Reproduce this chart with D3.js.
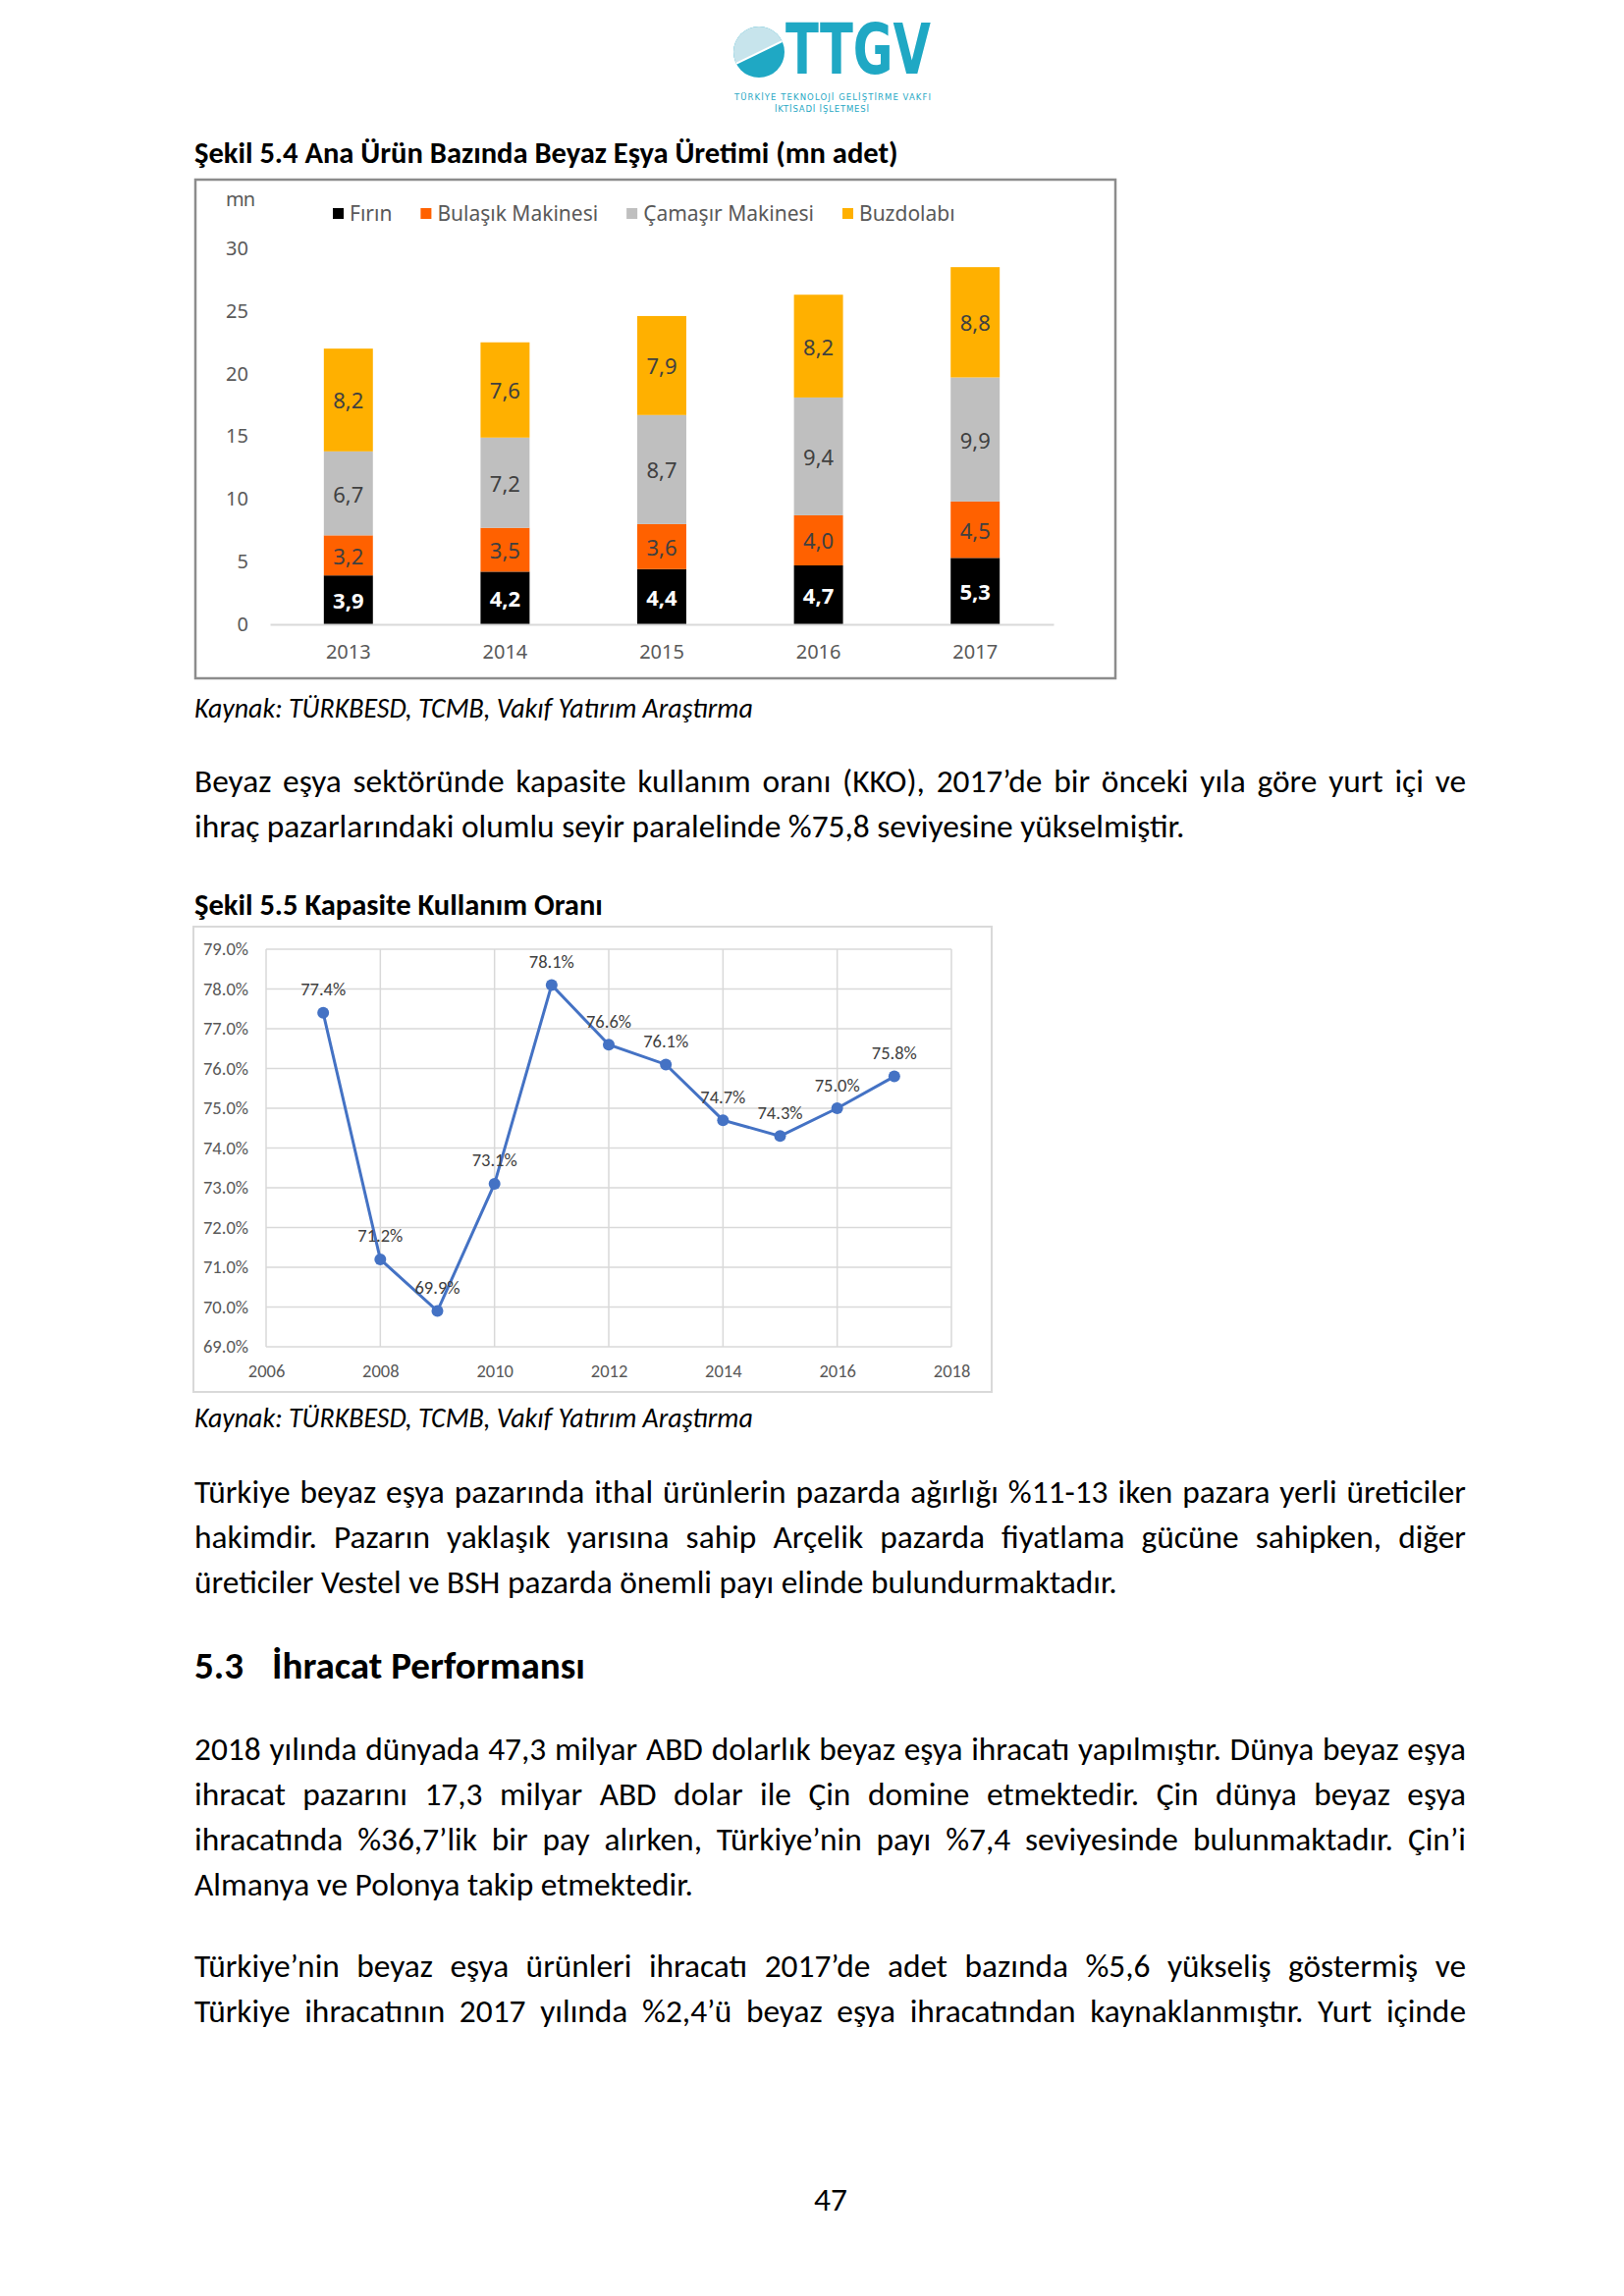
<!DOCTYPE html>
<html>
<head>
<meta charset="utf-8">
<script src="https://cdn.jsdelivr.net/npm/d3@7"></script>
<style>
  body { margin: 0; background: #fff; }
</style>
</head>
<body>
<div id="page"></div>
<script>
// ---- data: figure 5.4 (mn adet)
const years = ["2013", "2014", "2015", "2016", "2017"];
const firin = [3.9, 4.2, 4.4, 4.7, 5.3];
const bulasik = [3.2, 3.5, 3.6, 4.0, 4.5];
const camasir = [6.7, 7.2, 8.7, 9.4, 9.9];
const buzdolabi = [8.2, 7.6, 7.9, 8.2, 8.8];
const seriesNames = ["Fırın", "Bulaşık Makinesi", "Çamaşır Makinesi", "Buzdolabı"];
const seriesColors = ["#000000", "#ff6100", "#bfbfbf", "#ffb000"];
const yTicks1 = [0, 5, 10, 15, 20, 25, 30];

// ---- data: figure 5.5 kapasite kullanım oranı (%)
const kkoYears = [2007, 2008, 2009, 2010, 2011, 2012, 2013, 2014, 2015, 2016, 2017];
const kko = [77.4, 71.2, 69.9, 73.1, 78.1, 76.6, 76.1, 74.7, 74.3, 75.0, 75.8];
const xTicks2 = [2006, 2008, 2010, 2012, 2014, 2016, 2018];
const yTicks2 = [69, 70, 71, 72, 73, 74, 75, 76, 77, 78, 79];

// ---- page text
const para1 = [
  "Beyaz eşya sektöründe kapasite kullanım oranı (KKO), 2017’de bir önceki yıla göre yurt içi ve",
  "ihraç pazarlarındaki olumlu seyir paralelinde %75,8 seviyesine yükselmiştir."
];
const para2 = [
  "Türkiye beyaz eşya pazarında ithal ürünlerin pazarda ağırlığı %11-13 iken pazara yerli üreticiler",
  "hakimdir. Pazarın yaklaşık yarısına sahip Arçelik pazarda fiyatlama gücüne sahipken, diğer",
  "üreticiler Vestel ve BSH pazarda önemli payı elinde bulundurmaktadır."
];
const para3 = [
  "2018 yılında dünyada 47,3 milyar ABD dolarlık beyaz eşya ihracatı yapılmıştır. Dünya beyaz eşya",
  "ihracat pazarını 17,3 milyar ABD dolar ile Çin domine etmektedir. Çin dünya beyaz eşya",
  "ihracatında %36,7’lik bir pay alırken, Türkiye’nin payı %7,4 seviyesinde bulunmaktadır. Çin’i",
  "Almanya ve Polonya takip etmektedir."
];
const para4 = [
  "Türkiye’nin beyaz eşya ürünleri ihracatı 2017’de adet bazında %5,6 yükseliş göstermiş ve",
  "Türkiye ihracatının 2017 yılında %2,4’ü beyaz eşya ihracatından kaynaklanmıştır. Yurt içinde"
];
const source = "Kaynak: TÜRKBESD, TCMB, Vakıf Yatırım Araştırma";

const W = 1654, H = 2339;
const BODY = "Carlito, Lato, sans-serif";
const CHART1 = "'Noto Sans', sans-serif";
const LEFT = 198, RIGHT = 1493;

const svg = d3.select("#page").append("svg")
  .attr("width", W).attr("height", H)
  .style("display", "block");
svg.append("rect").attr("width", W).attr("height", H).attr("fill", "#fff");

// font size that gives a string a target width
function fitSize(txt, target, weight, style) {
  const t = svg.append("text")
    .attr("font-family", BODY).attr("font-size", 100)
    .attr("font-weight", weight || 400).attr("font-style", style || "normal")
    .text(txt);
  const w = t.node().getComputedTextLength();
  t.remove();
  return 100 * target / w;
}

const bodySize = fitSize(para1[1], 1009);
const titleSize = fitSize("Şekil 5.4 Ana Ürün Bazında Beyaz Eşya Üretimi (mn adet)", 717, 700);
const srcSize = fitSize(source, 569, 400, "italic");
const headSize = fitSize("İhracat Performansı", 319, 700);

function plainLine(txt, x, y, size, weight, style) {
  return svg.append("text")
    .attr("x", x).attr("y", y)
    .attr("font-family", BODY).attr("font-size", size)
    .attr("font-weight", weight || 400).attr("font-style", style || "normal")
    .attr("fill", "#000")
    .text(txt);
}

// justified line: one text per word, spread between LEFT and RIGHT
function justifiedLine(txt, y, size) {
  const words = txt.split(" ");
  const g = svg.append("g");
  const nodes = words.map(w => g.append("text")
    .attr("y", y)
    .attr("font-family", BODY).attr("font-size", size)
    .attr("fill", "#000")
    .text(w));
  const widths = nodes.map(n => n.node().getComputedTextLength());
  const gap = (RIGHT - LEFT - d3.sum(widths)) / (words.length - 1);
  let x = LEFT;
  nodes.forEach((n, i) => {
    n.attr("x", x);
    x += widths[i] + gap;
  });
}

function paragraph(lines, y0, lastJustified) {
  lines.forEach((l, i) => {
    const y = y0 + i * 46;
    if (i < lines.length - 1 || lastJustified) justifiedLine(l, y, bodySize);
    else plainLine(l, LEFT, y, bodySize);
  });
}

// ---- logo
const teal = "#1fa8c4";
const logo = svg.append("g");
logo.append("clipPath").attr("id", "logoClip")
  .append("circle").attr("cx", 773).attr("cy", 53).attr("r", 26);
logo.append("circle").attr("cx", 773).attr("cy", 53).attr("r", 26).attr("fill", teal);
logo.append("polygon")
  .attr("points", "740,69 805,38 805,20 740,20")
  .attr("fill", "#c7e4ec")
  .attr("clip-path", "url(#logoClip)");
logo.append("line")
  .attr("x1", 745).attr("y1", 67).attr("x2", 801).attr("y2", 40)
  .attr("stroke", "#fff").attr("stroke-width", 2)
  .attr("clip-path", "url(#logoClip)");
logo.append("text")
  .attr("x", 800).attr("y", 75)
  .attr("font-family", "'DejaVu Sans', sans-serif").attr("fill", teal)
  .attr("font-weight", 700).attr("font-size", 72)
  .attr("textLength", 148).attr("lengthAdjust", "spacingAndGlyphs")
  .text("TTGV");
logo.append("text")
  .attr("x", 748).attr("y", 102)
  .attr("font-family", "'DejaVu Sans', sans-serif").attr("fill", teal)
  .attr("font-size", 8.5)
  .attr("textLength", 200).attr("lengthAdjust", "spacing")
  .text("TÜRKİYE TEKNOLOJİ GELİŞTİRME VAKFI");
logo.append("text")
  .attr("x", 789).attr("y", 114)
  .attr("font-family", "'DejaVu Sans', sans-serif").attr("fill", teal)
  .attr("font-size", 8.5)
  .attr("textLength", 96).attr("lengthAdjust", "spacing")
  .text("İKTİSADİ İŞLETMESİ");

// ---- titles and text
plainLine("Şekil 5.4 Ana Ürün Bazında Beyaz Eşya Üretimi (mn adet)", LEFT, 166, titleSize, 700);
plainLine(source, LEFT, 731, srcSize, 400, "italic");
paragraph(para1, 807);
plainLine("Şekil 5.5 Kapasite Kullanım Oranı", LEFT, 932, titleSize, 700);
plainLine(source, LEFT, 1454, srcSize, 400, "italic");
paragraph(para2, 1531);
plainLine("5.3", LEFT, 1710, headSize, 700);
plainLine("İhracat Performansı", 277, 1710, headSize, 700);
paragraph(para3, 1793);
paragraph(para4, 2014, true);
plainLine("47", 846, 2252, bodySize).attr("text-anchor", "middle");

// ---- chart 1: stacked bars
const c1 = svg.append("g");
c1.append("rect")
  .attr("x", 199).attr("y", 183).attr("width", 937).attr("height", 508)
  .attr("fill", "#fff").attr("stroke", "#8c8c8c").attr("stroke-width", 2.5);

const table = years.map((yr, i) => ({
  year: yr, f: firin[i], b: bulasik[i], c: camasir[i], z: buzdolabi[i]
}));
const keys = ["f", "b", "c", "z"];
const stacked = d3.stack().keys(keys)(table);

const x1 = d3.scaleBand().domain(years).range([275, 1073]).paddingInner(0.687).paddingOuter(0.3435);
const y1 = d3.scaleLinear().domain([0, 30]).range([636, 253]);

const layers = c1.selectAll("g.layer").data(stacked).join("g")
  .attr("class", "layer")
  .attr("fill", (d, i) => seriesColors[i]);
layers.selectAll("rect").data(d => d).join("rect")
  .attr("x", d => x1(d.data.year))
  .attr("width", x1.bandwidth())
  .attr("y", d => y1(d[1]))
  .attr("height", d => y1(d[0]) - y1(d[1]));
layers.selectAll("text").data((d, i) => d.map(v => ({ v, i }))).join("text")
  .attr("x", d => x1(d.v.data.year) + x1.bandwidth() / 2)
  .attr("y", d => y1((d.v[0] + d.v[1]) / 2))
  .attr("text-anchor", "middle")
  .attr("dominant-baseline", "central")
  .attr("font-family", CHART1).attr("font-size", 22)
  .attr("font-weight", d => d.i === 0 ? 700 : 400)
  .attr("fill", d => d.i === 0 ? "#fff" : "#404040")
  .text(d => d3.format(".1f")(d.v[1] - d.v[0]).replace(".", ","));

const ax1 = c1.append("g").attr("transform", "translate(253,0)")
  .call(d3.axisLeft(y1).tickValues(yTicks1).tickSize(0).tickPadding(0));
ax1.select(".domain").remove();
ax1.selectAll("text").attr("font-family", CHART1).attr("font-size", 20).attr("fill", "#595959");

const bx1 = c1.append("g").attr("transform", "translate(0,636)")
  .call(d3.axisBottom(x1).tickSize(0).tickPadding(21));
bx1.select(".domain").attr("stroke", "#d9d9d9").attr("stroke-width", 2);
bx1.selectAll("text").attr("font-family", CHART1).attr("font-size", 20).attr("fill", "#595959");

c1.append("text").attr("x", 230).attr("y", 210)
  .attr("font-family", CHART1).attr("font-size", 20).attr("fill", "#595959")
  .attr("letter-spacing", -1)
  .text("mn");

// legend
let lx = 339;
seriesNames.forEach((name, i) => {
  c1.append("rect").attr("x", lx).attr("y", 212).attr("width", 11).attr("height", 11)
    .attr("fill", seriesColors[i]);
  const t = c1.append("text").attr("x", lx + 17).attr("y", 225)
    .attr("font-family", CHART1).attr("font-size", 21).attr("fill", "#595959")
    .text(name);
  lx += 17 + t.node().getComputedTextLength() + 29;
});

// ---- chart 2: line
const c2 = svg.append("g");
c2.append("rect")
  .attr("x", 197).attr("y", 944).attr("width", 813).attr("height", 474)
  .attr("fill", "#fff").attr("stroke", "#d9d9d9").attr("stroke-width", 2);

const x2 = d3.scaleLinear().domain([2006, 2018]).range([271, 969]);
const y2 = d3.scaleLinear().domain([69, 79]).range([1372, 967]);

c2.append("g").selectAll("line").data(yTicks2).join("line")
  .attr("x1", 271).attr("x2", 969)
  .attr("y1", d => y2(d)).attr("y2", d => y2(d))
  .attr("stroke", "#d9d9d9").attr("stroke-width", 1.5);
c2.append("g").selectAll("line").data(xTicks2).join("line")
  .attr("x1", d => x2(d)).attr("x2", d => x2(d))
  .attr("y1", 967).attr("y2", 1372)
  .attr("stroke", "#d9d9d9").attr("stroke-width", 1.5);

const ax2 = c2.append("g").attr("transform", "translate(253,0)")
  .call(d3.axisLeft(y2).tickValues(yTicks2).tickSize(0).tickPadding(0)
    .tickFormat(d => d.toFixed(1) + "%"));
ax2.select(".domain").remove();
ax2.selectAll("text").attr("font-family", BODY).attr("font-size", 18.5).attr("fill", "#595959");

const bx2 = c2.append("g").attr("transform", "translate(0,1372)")
  .call(d3.axisBottom(x2).tickValues(xTicks2).tickSize(0).tickPadding(18).tickFormat(d3.format("d")));
bx2.select(".domain").remove();
bx2.selectAll("text").attr("font-family", BODY).attr("font-size", 18.5).attr("fill", "#595959");

const pts = kkoYears.map((yr, i) => ({ yr, v: kko[i] }));
c2.append("path").datum(pts)
  .attr("fill", "none").attr("stroke", "#4472c4").attr("stroke-width", 3)
  .attr("d", d3.line().x(d => x2(d.yr)).y(d => y2(d.v)));
c2.selectAll("circle.pt").data(pts).join("circle")
  .attr("class", "pt")
  .attr("cx", d => x2(d.yr)).attr("cy", d => y2(d.v)).attr("r", 6)
  .attr("fill", "#4472c4");
c2.selectAll("text.lbl").data(pts).join("text")
  .attr("class", "lbl")
  .attr("x", d => x2(d.yr)).attr("y", d => y2(d.v) - 24)
  .attr("text-anchor", "middle").attr("dominant-baseline", "central")
  .attr("font-family", BODY).attr("font-size", 18.5).attr("fill", "#404040")
  .text(d => d.v.toFixed(1) + "%");
</script>
</body>
</html>
